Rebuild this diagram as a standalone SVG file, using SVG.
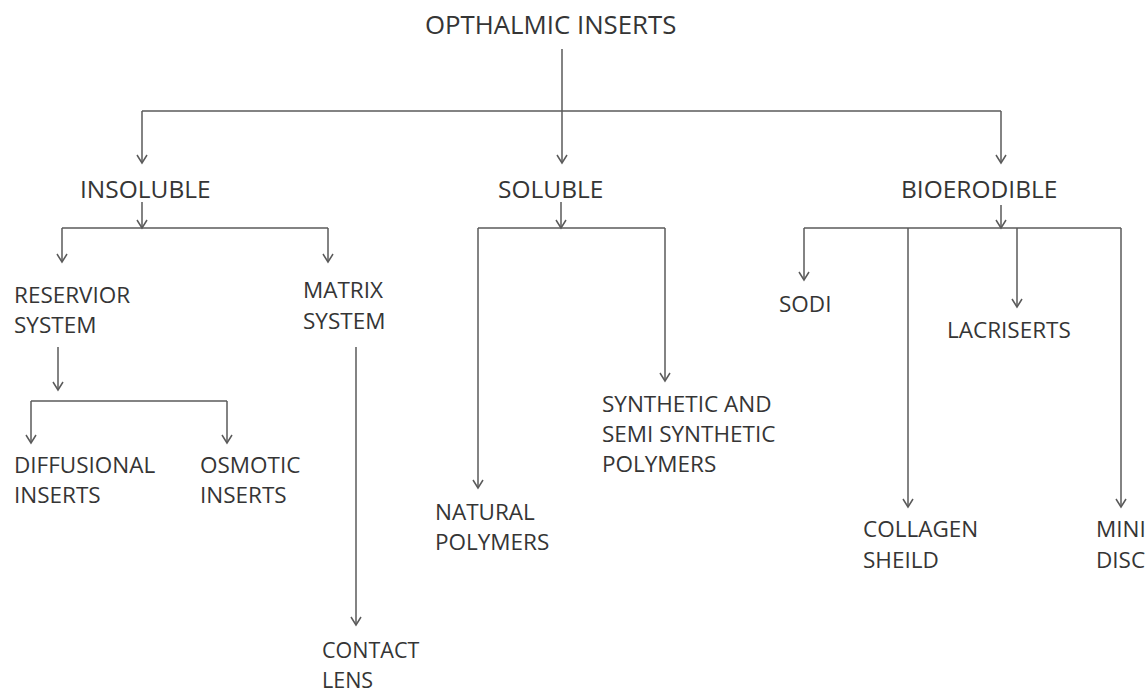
<svg xmlns="http://www.w3.org/2000/svg" width="1148" height="694" viewBox="0 0 1148 694">
<style>
text{font-family:"Open Sans","Noto Sans","Liberation Sans",sans-serif;font-size:22.5px;fill:#353535}
text.t1{font-size:24.5px}
text.t0{font-size:25.8px}
text.t3{font-size:21.5px}
.c path{fill:none;stroke:#5a5a5a;stroke-width:1.5}
</style>
<defs>
<marker id="a" markerUnits="userSpaceOnUse" markerWidth="16" markerHeight="16" refX="0" refY="0" viewBox="-10 -8 12 16" orient="auto" overflow="visible">
<path d="M-8,-5 L0,0 L-8,5" fill="none" stroke="#5a5a5a" stroke-width="1.5"/>
</marker>
</defs>
<rect width="1148" height="694" fill="#fff"/>
<g class="c" id="connectors">
<path d="M562,49 V163" marker-end="url(#a)"/>
<path d="M142,111 H1001"/>
<path d="M142,111 V163" marker-end="url(#a)"/>
<path d="M1001,111 V163" marker-end="url(#a)"/>
<path d="M142,202 V228" marker-end="url(#a)"/>
<path d="M62,228 H328"/>
<path d="M62,228 V262" marker-end="url(#a)"/>
<path d="M328,228 V262" marker-end="url(#a)"/>
<path d="M561,202 V228" marker-end="url(#a)"/>
<path d="M478,228 H665"/>
<path d="M665,228 V381" marker-end="url(#a)"/>
<path d="M478,228 V488" marker-end="url(#a)"/>
<path d="M1001,205 V228" marker-end="url(#a)"/>
<path d="M804,228 H1121"/>
<path d="M804,228 V280" marker-end="url(#a)"/>
<path d="M908,228 V507" marker-end="url(#a)"/>
<path d="M1017,228 V307" marker-end="url(#a)"/>
<path d="M1121,228 V507" marker-end="url(#a)"/>
<path d="M58,347 V390" marker-end="url(#a)"/>
<path d="M31,401 H227"/>
<path d="M31,401 V443" marker-end="url(#a)"/>
<path d="M227,401 V443" marker-end="url(#a)"/>
<path d="M356,347 V625" marker-end="url(#a)"/>
</g>
<g id="n-root"><text class="t0" x="425" y="34">OPTHALMIC INSERTS</text></g>
<g id="n-insoluble"><text class="t1" x="80" y="198">INSOLUBLE</text></g>
<g id="n-soluble"><text class="t1" x="498" y="198">SOLUBLE</text></g>
<g id="n-bioerodible"><text class="t1" x="901" y="198">BIOERODIBLE</text></g>
<g id="n-reservior"><text x="14" y="303">RESERVIOR</text><text x="14" y="333">SYSTEM</text></g>
<g id="n-matrix"><text x="303" y="298">MATRIX</text><text x="303" y="329">SYSTEM</text></g>
<g id="n-diffusional"><text x="14" y="473">DIFFUSIONAL</text><text x="14" y="503">INSERTS</text></g>
<g id="n-osmotic"><text x="200" y="473">OSMOTIC</text><text x="200" y="503">INSERTS</text></g>
<g id="n-contact"><text class="t3" x="322" y="658">CONTACT</text><text class="t3" x="322" y="688">LENS</text></g>
<g id="n-synthetic"><text x="602" y="412">SYNTHETIC AND</text><text x="602" y="442">SEMI SYNTHETIC</text><text x="602" y="472">POLYMERS</text></g>
<g id="n-natural"><text x="435" y="520">NATURAL</text><text x="435" y="550">POLYMERS</text></g>
<g id="n-sodi"><text x="779" y="312">SODI</text></g>
<g id="n-lacriserts"><text x="947" y="338">LACRISERTS</text></g>
<g id="n-collagen"><text x="863" y="537">COLLAGEN</text><text x="863" y="568">SHEILD</text></g>
<g id="n-mini"><text x="1096" y="537">MINI</text><text x="1096" y="568">DISC</text></g>
</svg>
